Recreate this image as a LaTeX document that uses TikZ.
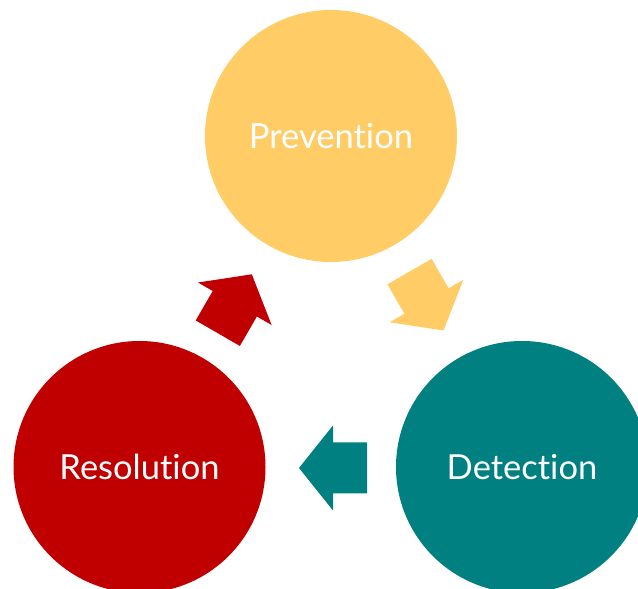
\documentclass[tikz,border=0pt]{standalone}
\usepackage{fontspec}
\setmainfont{Lato}[Ligatures={NoCommon,NoRare}]
\definecolor{prevc}{RGB}{255,204,102}
\definecolor{resc}{RGB}{192,0,0}
\definecolor{detc}{RGB}{0,128,128}
\tikzset{
  stage/.style={circle, minimum size=252pt, inner sep=0pt, fill=#1, draw=none},
  lbl/.style={text=white, font=\fontsize{34.5}{40}\selectfont, anchor=base, inner sep=0pt},
  blockarr/.pic={\fill[pic actions] (0,-25.5) -- (34,-25.5) -- (34,-42.5) -- (68,0) -- (34,42.5) -- (34,25.5) -- (0,25.5) -- cycle;}
}
\begin{document}
\begin{tikzpicture}[x=1pt,y=1pt]
\useasboundingbox (0,0) rectangle (638,589);
\node[stage=prevc] (prev) at (331,453) {};
\node[stage=resc] (res) at (139.5,122) {};
\node[stage=detc] (det) at (522,122) {};
\node[lbl] (prevt) at ([yshift=-13pt]prev.center) {Prevention};
\node[lbl] (rest) at ([yshift=-13pt]res.center) {Resolution};
\node[lbl] (dett) at ([yshift=-13pt]det.center) {Detection};
\pic[fill=detc, rotate=180] (a1) at (367,121) {blockarr};
\pic[fill=resc, rotate=60] (a2) at (217.8,255.8) {blockarr};
\pic[fill=prevc, rotate=-60] (a3) at (409.5,317.4) {blockarr};
\end{tikzpicture}
\end{document}
